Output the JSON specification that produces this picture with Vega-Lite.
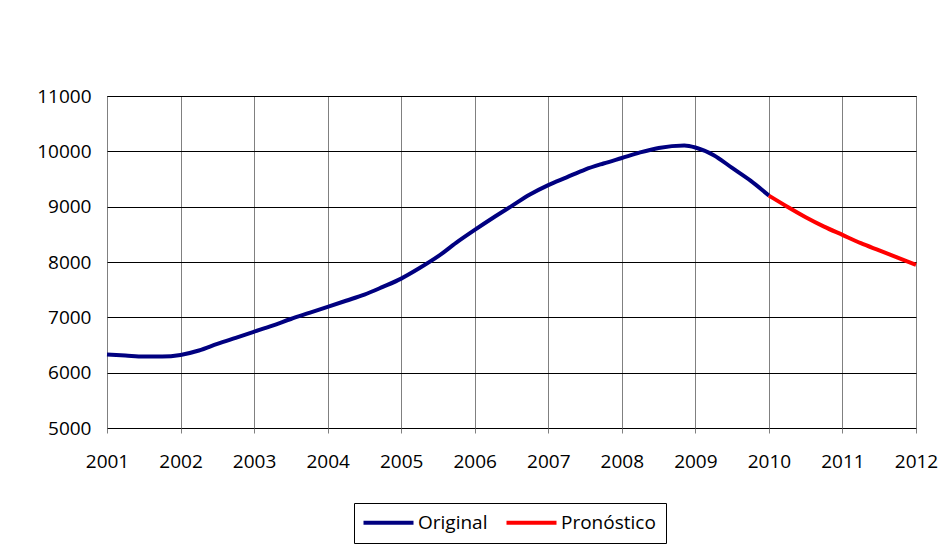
{
  "$schema": "https://vega.github.io/schema/vega-lite/v6.json",
  "width": 809,
  "height": 332,
  "autosize": "none",
  "padding": {"left": 107, "top": 96, "right": 33, "bottom": 117},
  "background": "white",
  "config": {
    "view": {"stroke": "black", "strokeWidth": 1},
    "font": "Open Sans"
  },
  "data": {
    "values": [
      {"year": 2001.0, "value": 6330, "series": "Original"},
      {"year": 2001.25, "value": 6310, "series": "Original"},
      {"year": 2001.5, "value": 6290, "series": "Original"},
      {"year": 2001.75, "value": 6290, "series": "Original"},
      {"year": 2002.0, "value": 6320, "series": "Original"},
      {"year": 2002.25, "value": 6400, "series": "Original"},
      {"year": 2002.5, "value": 6520, "series": "Original"},
      {"year": 2002.75, "value": 6630, "series": "Original"},
      {"year": 2003.0, "value": 6740, "series": "Original"},
      {"year": 2003.25, "value": 6850, "series": "Original"},
      {"year": 2003.5, "value": 6970, "series": "Original"},
      {"year": 2003.75, "value": 7080, "series": "Original"},
      {"year": 2004.0, "value": 7190, "series": "Original"},
      {"year": 2004.25, "value": 7300, "series": "Original"},
      {"year": 2004.5, "value": 7410, "series": "Original"},
      {"year": 2004.75, "value": 7550, "series": "Original"},
      {"year": 2005.0, "value": 7700, "series": "Original"},
      {"year": 2005.25, "value": 7890, "series": "Original"},
      {"year": 2005.5, "value": 8100, "series": "Original"},
      {"year": 2005.75, "value": 8350, "series": "Original"},
      {"year": 2006.0, "value": 8580, "series": "Original"},
      {"year": 2006.25, "value": 8800, "series": "Original"},
      {"year": 2006.5, "value": 9010, "series": "Original"},
      {"year": 2006.75, "value": 9220, "series": "Original"},
      {"year": 2007.0, "value": 9390, "series": "Original"},
      {"year": 2007.25, "value": 9530, "series": "Original"},
      {"year": 2007.5, "value": 9670, "series": "Original"},
      {"year": 2007.75, "value": 9780, "series": "Original"},
      {"year": 2008.0, "value": 9880, "series": "Original"},
      {"year": 2008.25, "value": 9980, "series": "Original"},
      {"year": 2008.5, "value": 10060, "series": "Original"},
      {"year": 2008.85, "value": 10105, "series": "Original"},
      {"year": 2009.0, "value": 10070, "series": "Original"},
      {"year": 2009.25, "value": 9930, "series": "Original"},
      {"year": 2009.5, "value": 9700, "series": "Original"},
      {"year": 2009.75, "value": 9470, "series": "Original"},
      {"year": 2010.0, "value": 9200, "series": "Original"},
      {"year": 2010.0, "value": 9200, "series": "Pronóstico"},
      {"year": 2010.25, "value": 9000, "series": "Pronóstico"},
      {"year": 2010.5, "value": 8810, "series": "Pronóstico"},
      {"year": 2010.75, "value": 8640, "series": "Pronóstico"},
      {"year": 2011.0, "value": 8490, "series": "Pronóstico"},
      {"year": 2011.25, "value": 8340, "series": "Pronóstico"},
      {"year": 2011.5, "value": 8210, "series": "Pronóstico"},
      {"year": 2011.75, "value": 8080, "series": "Pronóstico"},
      {"year": 2012.0, "value": 7950, "series": "Pronóstico"}
    ]
  },
  "mark": {"type": "line", "strokeWidth": 4, "interpolate": "monotone"},
  "encoding": {
    "x": {
      "field": "year", "type": "quantitative",
      "scale": {"domain": [2001, 2012], "nice": false, "zero": false},
      "axis": {
        "title": null, "values": [2001,2002,2003,2004,2005,2006,2007,2008,2009,2010,2011,2012],
        "format": "d", "grid": true, "gridColor": "#808080", "gridOpacity": 1, "gridWidth": 1,
        "domain": false, "ticks": true, "tickSize": 5, "tickColor": "#808080",
        "labelFontSize": 19, "labelColor": "black", "labelPadding": 19, "labelFlush": false
      }
    },
    "y": {
      "field": "value", "type": "quantitative",
      "scale": {"domain": [5000, 11000], "nice": false, "zero": false},
      "axis": {
        "title": null, "values": [5000,6000,7000,8000,9000,10000,11000],
        "format": "d", "grid": true, "gridColor": "black", "gridOpacity": 1, "gridWidth": 1,
        "domain": false, "ticks": false,
        "labelFontSize": 19, "labelColor": "black", "labelPadding": 16
      }
    },
    "color": {
      "field": "series", "type": "nominal",
      "scale": {"domain": ["Original", "Pronóstico"], "range": ["#000080", "#FF0000"]},
      "legend": {
        "title": null, "orient": "none", "legendX": 247, "legendY": 407,
        "direction": "horizontal", "symbolType": "M-2,0H8", "symbolSize": 100,
        "symbolStrokeWidth": 4, "labelFontSize": 19, "labelColor": "black",
        "labelOffset": 35, "columnPadding": 10, "padding": 10,
        "strokeColor": "black", "fillColor": "white"
      }
    }
  }
}
